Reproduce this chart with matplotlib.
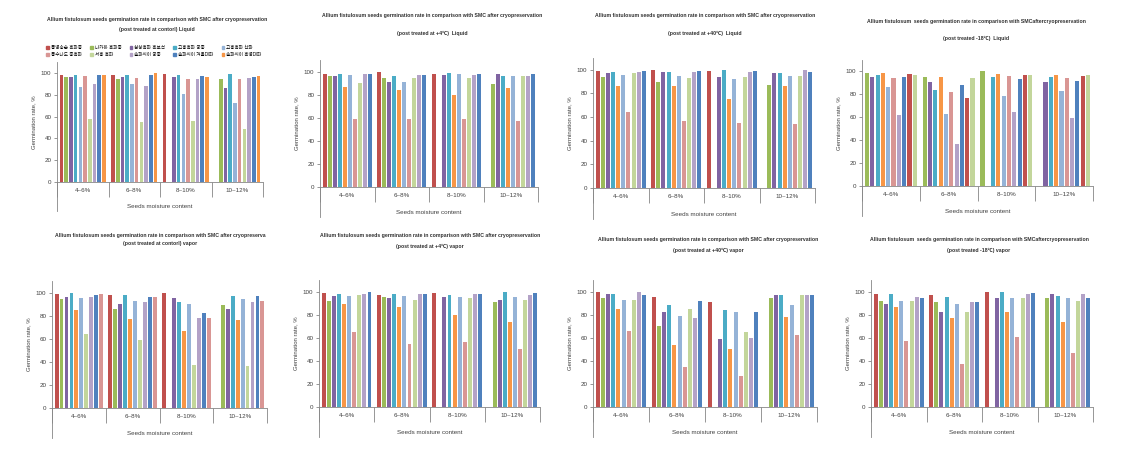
import numpy as np
import matplotlib
matplotlib.use("Agg")
import matplotlib.pyplot as plt
from matplotlib.patches import Patch

plt.rcParams['font.family'] = ['Liberation Sans', 'Noto Sans CJK KR', 'DejaVu Sans']

# categories
groups = ['4~6%', '6~8%', '8~10%', '10~12%']

# Excel 2007 palette
RED = '#C0504D'
GRN = '#9BBB59'
PUR = '#8064A2'
TEA = '#4BACC6'
ORA = '#F79646'
LBL = '#95B3D7'
PNK = '#D99694'
LGR = '#C3D69B'
LAV = '#B3A2C7'
BLU = '#4F81BD'

# legend of the first panel (Korean accession names, hard to read in the source)
legend_names = ['통영송순 흑파중', '나카하 흑파중', '삼상흑파 흑보석', '고흥흑파 궁중', '고흥흑파 산파',
                '통수나도 중흑파', '서흥 흑파', '솔파씨이 궁중', '솔파씨이 겨울대파', '솔파씨이 흑영대파']

# values per series, 4 groups each (0 = no bar)
liquid_control = [[98, 98, 99, 0], [96, 94, 0, 94], [96, 96, 96, 86], [98, 98, 98, 99], [87, 90, 81, 72],
                  [97, 95, 94, 94], [58, 55, 56, 49], [90, 88, 94, 95], [98, 98, 97, 96], [98, 100, 96, 97]]
liquid_p4 = [[98, 100, 98, 0], [96, 94, 0, 89], [96, 91, 97, 98], [98, 96, 99, 96], [87, 84, 80, 86],
             [97, 91, 98, 96], [59, 59, 59, 57], [90, 94, 94, 96], [98, 97, 97, 96], [98, 97, 98, 98]]
liquid_p40 = [[99, 100, 99, 0], [94, 90, 0, 87], [97, 98, 94, 97], [98, 98, 100, 97], [86, 86, 75, 86],
              [96, 95, 92, 95], [64, 57, 55, 54], [97, 93, 94, 95], [98, 98, 98, 100], [99, 99, 99, 98]]
liquid_m18 = [[99, 95, 100, 0], [95, 91, 0, 91], [97, 84, 95, 95], [99, 95, 98, 97], [86, 63, 79, 83],
              [94, 82, 96, 94], [62, 37, 65, 59], [95, 88, 93, 92], [98, 77, 97, 96], [97, 94, 97, 97]]
vapor_control = [[99, 98, 100, 0], [94, 86, 0, 89], [96, 90, 95, 86], [100, 98, 92, 97], [85, 77, 67, 76],
                 [95, 93, 90, 94], [64, 59, 37, 36], [96, 92, 78, 92], [98, 96, 82, 97], [99, 96, 78, 93]]
vapor_p4 = [[99, 97, 99, 0], [92, 95, 0, 91], [96, 94, 95, 93], [98, 98, 97, 100], [89, 87, 80, 74],
            [96, 96, 95, 95], [65, 55, 56, 50], [97, 93, 94, 93], [98, 98, 98, 97], [100, 98, 98, 99]]
vapor_p40 = [[100, 95, 91, 0], [94, 70, 0, 94], [98, 82, 59, 97], [98, 88, 84, 97], [85, 54, 50, 78],
             [93, 79, 82, 88], [66, 35, 27, 62], [93, 85, 65, 97], [100, 77, 60, 97], [97, 92, 82, 97]]
vapor_m18 = [[98, 97, 100, 0], [92, 91, 0, 94], [89, 82, 94, 98], [98, 95, 100, 96], [87, 77, 82, 74],
             [92, 89, 94, 94], [57, 37, 61, 47], [92, 82, 94, 92], [95, 91, 98, 98], [94, 91, 99, 94]]

order_a = [RED, GRN, PUR, TEA, LBL, PNK, LGR, LAV, BLU, ORA]
order_b = [RED, GRN, PUR, TEA, ORA, LBL, PNK, LGR, LAV, BLU]
order_c = [GRN, PUR, TEA, ORA, LBL, PNK, LAV, BLU, RED, LGR]
order_d = [RED, GRN, PUR, TEA, ORA, LBL, LGR, LAV, BLU, PNK]

T1 = 'Allium fistulosum seeds germination rate in comparison with SMC after cryopreservation'
T2 = 'Allium fistulosum  seeds germination rate in comparison with SMCaftercryopreservation'

# (data, colors, title lines, axes px box: x0, x1, y_top, y_zero, title centre x, title y1, title y2)
panels = [
    (liquid_control, order_a, T1, '(post treated at contorl) Liquid', 57, 263, 62, 182, 157, 20, 29),
    (liquid_p4, order_b, T1, '(post treated at +4℃)  Liquid', 320, 538, 60, 187, 432, 15, 33),
    (liquid_p40, order_b, T1, '(post treated at +40℃)  Liquid', 593, 815, 58, 188, 705, 15, 33),
    (liquid_m18, order_c, T2, '(post treated -18℃)  Liquid', 862, 1093, 60, 186, 976, 21, 38),
    (vapor_control, order_d, T1[:-4], '(post treated at contorl) vapor', 52, 267, 281, 408, 160, 235, 244),
    (vapor_p4, order_b, T1, '(post treated at +4℃) vapor', 319, 540, 280, 407, 430, 236, 246),
    (vapor_p40, order_b, T1, '(post treated at +40℃) vapor', 593, 817, 280, 407, 708, 240, 250),
    (vapor_m18, order_b, T2, '(post treated -18℃) vapor', 871, 1093, 280, 407, 979, 240, 250),
]

W, H = 1126, 451
fig = plt.figure(figsize=(W / 100, H / 100), dpi=100)
axis_col = '#868686'

x = np.arange(len(groups))
slot = 0.092
for k, (data, cols, t1, t2, x0, x1, ytop, yzero, tx, ty1, ty2) in enumerate(panels):
    ax = fig.add_axes([x0 / W, 1 - yzero / H, (x1 - x0) / W, (yzero - ytop) / H])
    for i, (vals, c) in enumerate(zip(data, cols)):
        ax.bar(x + (i - 4.5) * slot, vals, width=slot * 0.78, color=c, linewidth=0)
    ax.set_xlim(-0.5, 3.5)
    ax.set_ylim(0, 110)
    ax.set_yticks(range(0, 101, 20))
    ax.set_xticks([-0.5, 0.5, 1.5, 2.5, 3.5])
    ax.set_xticklabels([])
    ax.set_xticks(x, minor=True)
    ax.set_xticklabels(groups, minor=True, fontsize=4.5, color='#404040')
    ax.tick_params(axis='x', which='major', length=11, color=axis_col, width=0.6)
    ax.tick_params(axis='x', which='minor', length=0, pad=4)
    ax.tick_params(axis='y', length=2, color=axis_col, width=0.6, labelsize=4.5, labelcolor='#404040', pad=2)
    for s in ['top', 'right']:
        ax.spines[s].set_visible(False)
    for s in ['left', 'bottom']:
        ax.spines[s].set_color(axis_col)
        ax.spines[s].set_linewidth(0.6)
    ax.plot([0, 0], [0, -0.24], transform=ax.transAxes, clip_on=False, color=axis_col, lw=0.6)
    ax.text(0.5, -0.2, 'Seeds moisture content', transform=ax.transAxes, ha='center', va='center',
            fontsize=4.5, color='#404040')
    ax.set_ylabel('Germination rate, %', fontsize=4.3, color='#404040', labelpad=3)
    fig.text(tx / W, 1 - ty1 / H, t1, ha='center', va='center', fontsize=3.7, fontweight='bold', color='#303030')
    fig.text(tx / W, 1 - ty2 / H, t2, ha='center', va='center', fontsize=3.7, fontweight='bold', color='#303030')
    if k == 0:
        # legend reads row by row, matplotlib fills column by column
        idx = [0, 5, 1, 6, 2, 7, 3, 8, 4, 9]
        handles = [Patch(color=cols[j]) for j in idx]
        ax.legend(handles, [legend_names[j] for j in idx], ncol=5, loc='lower center',
                  bbox_to_anchor=(0.47, 1.02), frameon=False, fontsize=3.3, handlelength=0.6,
                  handleheight=0.6, handletextpad=0.4, columnspacing=1.8, labelspacing=0.5, borderpad=0)

fig.savefig('out.png', dpi=100)
